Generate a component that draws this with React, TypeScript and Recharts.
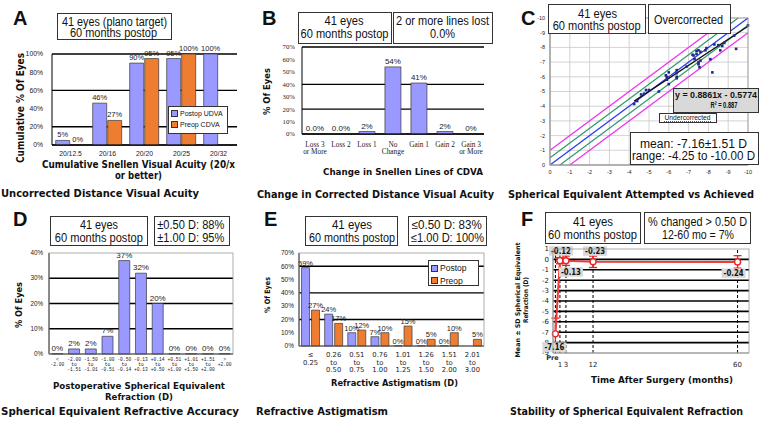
import React from 'react'
import {
  BarChart,
  Bar,
  XAxis,
  YAxis,
  CartesianGrid,
  LabelList,
  Legend,
  ScatterChart,
  Scatter,
  ReferenceLine,
  LineChart,
  Line,
  ErrorBar,
} from 'recharts'

const SANS = '"Liberation Sans", Arial, sans-serif'
const VERDANA = '"DejaVu Sans", Verdana, sans-serif'
const SERIF = '"Liberation Serif", "Times New Roman", serif'
const MONO = '"Liberation Mono", "Courier New", monospace'
const POSTOP = '#9999ff'
const PREOP = '#ee7d31'
const EDGE = '#3a3a3a'

// A - cumulative visual acuity
const snellenCats = ['20/12.5', '20/16', '20/20', '20/25', '20/32']
const postopUdva = [5, 46, 90, 95, 100]
const preopCdva: (number | null)[] = [0, 27, 95, 100, null]

// B - change in lines of CDVA
const lineCats = ['Loss 3\nor More', 'Loss 2', 'Loss 1', 'No\nChange', 'Gain 1', 'Gain 2', 'Gain 3\nor More']
const lineChange = [0, 0, 2, 54, 41, 2, 0]
const lineLabels = ['0.0%', '0.0%', '2%', '54%', '41%', '2%', '0%']

// C - attempted vs achieved SE (D)
const attempted = [
  -4.25, -4.4, -4.6, -4.75, -4.85, -5.0, -5.5, -5.85, -5.9, -5.9, -6.0, -6.0, -6.4, -6.4,
  -6.4, -6.4, -6.9, -7.2, -7.25, -7.3, -7.4, -7.4, -7.5, -7.5, -7.5, -7.55, -7.6, -7.6,
  -7.85, -7.9, -8.1, -8.2, -8.3, -8.5, -8.6, -8.7, -8.8, -9.0, -9.3, -9.4, -10.0,
]
const achieved = [
  -4.15, -4.35, -4.8, -4.85, -5.1, -5.1, -5.0, -6.1, -6.0, -5.8, -6.3, -5.5, -6.45, -6.25,
  -6.0, -5.9, -6.7, -7.5, -7.45, -7.2, -7.55, -7.75, -7.8, -7.0, -6.85, -6.65, -7.7, -7.1,
  -7.8, -7.95, -7.2, -6.3, -8.2, -8.15, -7.8, -8.1, -8.3, -9.05, -8.8, -7.9, -9.5,
]
const seTicks = [-10, -9, -8, -7, -6, -5, -4, -3, -2, -1, 0]
const regSlope = 0.8861
const regIntercept = -0.5774
const regFrom = -4.25
const regTo = -10

// D - postop SE accuracy
const seCats = [
  '<\n-2.00', '-2.00\nto\n-1.51', '-1.50\nto\n-1.01', '-1.00\nto\n-0.51', '-0.50\nto\n-0.14',
  '-0.13\nto\n+0.13', '+0.14\nto\n+0.50', '+0.51\nto\n+1.00', '+1.01\nto\n+1.50',
  '+1.51\nto\n+2.00', '>\n+2.00',
]
const seShare = [0, 2, 2, 7, 37, 32, 20, 0, 0, 0, 0]

// E - refractive astigmatism
const cylCats = [
  '≤\n0.25', '0.26\nto\n0.50', '0.51\nto\n0.75', '0.76\nto\n1.00', '1.01\nto\n1.25',
  '1.26\nto\n1.50', '1.51\nto\n2.00', '2.01\nto\n3.00',
]
const cylPostop: (number | null)[] = [59, 24, 10, 7, 0, 0, 0, null]
const cylPreop = [27, 17, 12, 10, 15, 5, 10, 5]

// F - stability of SE
const visitMonths = [-0.5, 1, 3, 12, 60]
const visitLabels = ['Pre', '1', '3', '12', '60']
const seMean = [-7.16, -0.12, -0.13, -0.23, -0.24]
const seSd = [1.51, 0.3, 0.45, 0.55, 0.6]

const udvaData = snellenCats.map((cat, i) => ({ cat, postop: postopUdva[i], preop: preopCdva[i] }))
const lineData = lineCats.map((cat, i) => ({ cat, v: lineChange[i], lbl: lineLabels[i] }))
const scatterData = attempted.map((x, i) => ({ x, y: achieved[i] }))
const seData = seCats.map((cat, i) => ({ cat, v: seShare[i] }))
const cylData = cylCats.map((cat, i) => ({ cat, postop: cylPostop[i], preop: cylPreop[i] }))
const stabData = visitMonths.map((m, i) => ({ m, mean: seMean[i], sd: seSd[i] }))

const pct = (v: any) => (v == null ? '' : `${v}%`)

function frame(x0: number, y0: number, x1: number, y1: number, yW: number, mt: number, mr: number, xH: number) {
  return {
    style: { position: 'absolute' as const, left: x0 - yW, top: y0 - mt },
    width: x1 - x0 + yW + mr,
    height: y1 - y0 + mt + xH,
    margin: { top: mt, right: mr, left: 0, bottom: 0 },
  }
}

function StackTick(props: any) {
  const { x, y, payload, first, gap, size, family } = props
  const lines = String(payload.value).split('\n')
  return (
    <text textAnchor="middle" fontSize={size} fontFamily={family} fill="#222">
      {lines.map((l, i) => (
        <tspan key={i} x={x} y={y + first + i * gap}>
          {l}
        </tspan>
      ))}
    </text>
  )
}

function VisitTick(props: any) {
  const { x, y, payload } = props
  const i = visitMonths.indexOf(payload.value)
  const pre = i === 0
  return (
    <text x={pre ? x - 3 : x} y={y + (pre ? 7 : 13.5)} textAnchor="middle" fontSize={pre ? 6.5 : 7} fontFamily={VERDANA} fontWeight={pre ? 'bold' : 'normal'} fill="#222">
      {visitLabels[i]}
    </text>
  )
}

function LegendBox({ payload, size }: any) {
  return (
    <div style={{ border: '1px solid #333', background: '#fff', padding: '1px 2px', fontFamily: SANS, fontSize: size, color: '#111', boxSizing: 'border-box', height: '100%', whiteSpace: 'nowrap' }}>
      {(payload || []).map((p: any) => (
        <div key={p.value} style={{ display: 'flex', alignItems: 'center', gap: 2, lineHeight: `${size + 4}px` }}>
          <span style={{ width: 5, height: 5, background: p.color, border: '0.5px solid #333', display: 'inline-block', flex: 'none' }} />
          {p.value}
        </div>
      ))}
    </div>
  )
}

const stabShift = [
  [-1, 16],
  [1, -7],
  [5, 14],
  [2, -8],
  [-4, 14],
]

function StabLabel(props: any) {
  const { x, y, value, index } = props
  const [dx, dy] = stabShift[index] || [0, -8]
  const cx = x + dx
  const by = y + dy
  return (
    <g>
      <rect x={cx - 12} y={by - 7.5} width={24} height={9.5} fill="#d9d9d9" />
      <text x={cx - 10} y={by} fontSize={8.5} fontFamily={VERDANA} fontWeight="bold" fill="#111" textLength={20} lengthAdjust="spacingAndGlyphs">
        {Number(value).toFixed(2)}
      </text>
    </g>
  )
}

function Txt({ x, y, len, size = 12, bold = false, family = SANS, fill = '#111', children }: any) {
  return (
    <text x={x} y={y} fontSize={size} fontFamily={family} fontWeight={bold ? 'bold' : 'normal'} fill={fill} textLength={len} lengthAdjust="spacingAndGlyphs">
      {children}
    </text>
  )
}

// centred text squeezed to a given width
function CTxt({ cx, y, len, ...rest }: any) {
  return <Txt x={cx - len / 2} y={y} len={len} {...rest} />
}

function VTxt({ cx, cy, len, size = 9, family = VERDANA, children }: any) {
  return (
    <text x={cx - len / 2} y={cy + size * 0.35} transform={`rotate(-90 ${cx} ${cy})`} fontSize={size} fontFamily={family} fontWeight="bold" fill="#111" textLength={len} lengthAdjust="spacingAndGlyphs">
      {children}
    </text>
  )
}

function Box({ x0, y0, x1, y1, fill = '#fff' }: any) {
  return <rect x={x0 + 0.5} y={y0 + 0.5} width={x1 - x0} height={y1 - y0} fill={fill} stroke="#333" strokeWidth={1} />
}

export default function App() {
  const a = frame(52, 54, 237, 145, 32, 14, 4, 16)
  const b = frame(302, 47, 484, 134, 30, 6, 4, 24)
  const c = frame(550, 18, 748, 165, 18, 4, 8, 14)
  const d = frame(49, 253, 233, 354, 28, 6, 4, 26)
  const e = frame(299, 253, 484, 346, 30, 8, 4, 30)
  const f = frame(553, 249, 749, 353, 22, 4, 6, 20)

  const yTick = (size: number, family = SANS) => ({ fontSize: size, fontFamily: family, fill: '#222' })
  const barLabel = { fontSize: 7.5, fontFamily: SANS, fill: '#222' }

  return (
    <div style={{ position: 'fixed', left: 0, top: 0, width: 764, height: 421, background: '#fff', fontFamily: SANS, overflow: 'hidden' }}>
      {/* A */}
      <div style={a.style}>
        <BarChart width={a.width} height={a.height} data={udvaData} margin={a.margin} barCategoryGap="10%" barGap={1}>
          <CartesianGrid vertical={false} stroke="#000" strokeWidth={1.4} />
          <XAxis dataKey="cat" interval={0} height={16} tickLine={false} tickSize={4} tickMargin={2} axisLine={{ stroke: '#000' }} tick={{ fontSize: 6.8, fontFamily: SANS, fill: '#222' }} />
          <YAxis width={32} domain={[0, 100]} ticks={[0, 20, 40, 60, 80, 100]} tickFormatter={pct} tickLine={false} tickSize={4} tickMargin={5} axisLine={{ stroke: '#000' }} tick={yTick(6.8)} />
          <Legend layout="vertical" align="center" verticalAlign="middle" wrapperStyle={{ left: 148, top: 66, width: 60, height: 28 }} content={(p: any) => <LegendBox {...p} size={7} />} />
          <Bar dataKey="postop" name="Postop UDVA" fill={POSTOP} stroke={EDGE} strokeWidth={0.7} minPointSize={0.4} isAnimationActive={false}>
            <LabelList dataKey="postop" position="top" offset={3} formatter={pct} {...barLabel} />
          </Bar>
          <Bar dataKey="preop" name="Preop CDVA" fill={PREOP} stroke={EDGE} strokeWidth={0.7} minPointSize={0.4} isAnimationActive={false}>
            <LabelList dataKey="preop" position="top" offset={3} formatter={pct} {...barLabel} />
          </Bar>
        </BarChart>
      </div>

      {/* B */}
      <div style={b.style}>
        <BarChart width={b.width} height={b.height} data={lineData} margin={b.margin} barCategoryGap="19%">
          <CartesianGrid vertical={false} stroke="#000" strokeWidth={1.3} />
          <XAxis dataKey="cat" interval={0} height={24} tickLine={false} tickSize={0} tickMargin={0} axisLine={{ stroke: '#000' }} tick={<StackTick first={13} gap={7} size={7.3} family={SERIF} />} />
          <YAxis width={30} domain={[0, 70]} ticks={[0, 10, 20, 30, 40, 50, 60, 70]} tickFormatter={pct} tickLine={false} tickSize={3} tickMargin={4} axisLine={{ stroke: '#000' }} tick={yTick(6.8, SERIF)} />
          <Bar dataKey="v" fill={POSTOP} stroke={EDGE} strokeWidth={0.7} minPointSize={0.4} isAnimationActive={false}>
            <LabelList dataKey="lbl" position="top" offset={3} fontSize={8} fontFamily={SANS} fill="#222" />
          </Bar>
        </BarChart>
      </div>

      {/* C */}
      <div style={c.style}>
        <ScatterChart width={c.width} height={c.height} margin={c.margin}>
          <CartesianGrid stroke="#c8c8c8" strokeWidth={0.8} />
          <XAxis type="number" dataKey="x" domain={[-10, 0]} ticks={seTicks} reversed interval={0} height={14} tickLine={false} tickSize={3} tickMargin={2} axisLine={{ stroke: '#999' }} tick={yTick(5.5)} />
          <YAxis type="number" dataKey="y" domain={[-10, 0]} ticks={seTicks} reversed interval={0} width={18} tickLine={false} tickSize={3} tickMargin={2} axisLine={{ stroke: '#999' }} tick={yTick(5.5)} />
          <ReferenceLine segment={[{ x: 0, y: -1 }, { x: -9, y: -10 }]} stroke="#ee33ee" strokeWidth={1.3} />
          <ReferenceLine segment={[{ x: -1, y: 0 }, { x: -10, y: -9 }]} stroke="#ee33ee" strokeWidth={1.3} />
          <ReferenceLine segment={[{ x: 0, y: -0.5 }, { x: -9.5, y: -10 }]} stroke="#2f9a6a" strokeWidth={1.2} />
          <ReferenceLine segment={[{ x: -0.5, y: 0 }, { x: -10, y: -9.5 }]} stroke="#2f9a6a" strokeWidth={1.2} />
          <ReferenceLine segment={[{ x: 0, y: 0 }, { x: -10, y: -10 }]} stroke="#2a3cf0" strokeWidth={1.3} />
          <ReferenceLine
            segment={[
              { x: regFrom, y: regSlope * regFrom + regIntercept },
              { x: regTo, y: regSlope * regTo + regIntercept },
            ]}
            stroke="#111"
            strokeWidth={1.3}
          />
          <Scatter
            data={scatterData}
            isAnimationActive={false}
            shape={(p: any) => <rect x={p.cx - 1.3} y={p.cy - 1.3} width={2.6} height={2.6} fill="#1c2a8c" />}
          />
        </ScatterChart>
      </div>

      {/* D */}
      <div style={d.style}>
        <BarChart width={d.width} height={d.height} data={seData} margin={d.margin} barCategoryGap="17%">
          <CartesianGrid vertical={false} horizontalValues={[10, 20, 30]} stroke="#000" strokeWidth={1.4} />
          <XAxis dataKey="cat" interval={0} height={26} tickLine={false} tickSize={0} tickMargin={0} axisLine={{ stroke: '#000' }} tick={<StackTick first={7} gap={5} size={4.6} family={MONO} />} />
          <YAxis width={28} domain={[0, 40]} ticks={[0, 10, 20, 30, 40]} tickFormatter={pct} tickLine={false} tickSize={3} tickMargin={3} axisLine={{ stroke: '#000' }} tick={yTick(6.3)} />
          <Bar dataKey="v" fill={POSTOP} stroke={EDGE} strokeWidth={0.7} minPointSize={0.4} isAnimationActive={false}>
            <LabelList dataKey="v" position="top" offset={3} formatter={pct} fontSize={8} fontFamily={SANS} fill="#222" />
          </Bar>
        </BarChart>
      </div>

      {/* E */}
      <div style={e.style}>
        <BarChart width={e.width} height={e.height} data={cylData} margin={e.margin} barCategoryGap="11%" barGap={2}>
          <CartesianGrid vertical={false} horizontalValues={[10, 20, 30, 40, 50, 60]} stroke="#000" strokeWidth={1.4} />
          <XAxis dataKey="cat" interval={0} height={30} tickLine={false} tickSize={0} tickMargin={0} axisLine={{ stroke: '#000' }} tick={<StackTick first={11} gap={7.5} size={6.8} family={VERDANA} />} />
          <YAxis width={30} domain={[0, 70]} ticks={[0, 10, 20, 30, 40, 50, 60, 70]} tickFormatter={pct} tickLine={false} tickSize={2} tickMargin={3} axisLine={{ stroke: '#000' }} tick={yTick(6.5)} />
          <Legend layout="vertical" align="center" verticalAlign="middle" wrapperStyle={{ left: 159, top: 15, width: 51, height: 26 }} content={(p: any) => <LegendBox {...p} size={8.5} />} />
          <Bar dataKey="postop" name="Postop" fill={POSTOP} stroke={EDGE} strokeWidth={0.7} minPointSize={0.4} isAnimationActive={false}>
            <LabelList dataKey="postop" position="top" offset={2} formatter={pct} {...barLabel} />
          </Bar>
          <Bar dataKey="preop" name="Preop" fill={PREOP} stroke={EDGE} strokeWidth={0.7} minPointSize={0.4} isAnimationActive={false}>
            <LabelList dataKey="preop" position="top" offset={2} formatter={pct} {...barLabel} />
          </Bar>
        </BarChart>
      </div>

      {/* F */}
      <div style={f.style}>
        <LineChart width={f.width} height={f.height} data={stabData} margin={f.margin}>
          <CartesianGrid vertical={false} horizontalValues={[-8, -7, -6, -5, -4, -3, -2, -1, 0]} stroke="#000" strokeWidth={1.6} />
          {visitMonths.map((m) => (
            <ReferenceLine key={m} x={m} stroke="#000" strokeDasharray="3 2" />
          ))}
          <XAxis type="number" dataKey="m" domain={[-1.3, 63.8]} ticks={visitMonths} interval={0} height={20} tickLine={false} tickSize={0} tickMargin={0} axisLine={{ stroke: '#999' }} tick={<VisitTick />} />
          <YAxis width={22} domain={[-9, 1]} ticks={[-9, -8, -7, -6, -5, -4, -3, -2, -1, 0, 1]} interval={0} tickLine={false} tickSize={2} tickMargin={2} axisLine={{ stroke: '#999' }} tick={{ fontSize: 7, fontFamily: VERDANA, fill: '#222' }} />
          <Line dataKey="mean" stroke="#ee3b3b" strokeWidth={2} isAnimationActive={false} dot={{ r: 3, fill: '#fff', stroke: '#e22', strokeWidth: 1.4 }}>
            <ErrorBar dataKey="sd" width={4} stroke="#e22" strokeWidth={1.3} direction="y" />
            <LabelList dataKey="mean" content={<StabLabel />} />
          </Line>
        </LineChart>
      </div>

      <svg width={764} height={421} style={{ position: 'absolute', left: 0, top: 0, pointerEvents: 'none' }}>
        {/* panel letters */}
        <Txt x={13} y={24.5} size={20} bold>A</Txt>
        <Txt x={262} y={24.5} size={20} bold>B</Txt>
        <Txt x={521} y={25} size={20} bold>C</Txt>
        <Txt x={13} y={226} size={20} bold>D</Txt>
        <Txt x={264} y={226} size={20} bold>E</Txt>
        <Txt x={521} y={226} size={20} bold>F</Txt>

        {/* plot frames */}
        <rect x={550} y={18} width={198} height={147} fill="none" stroke="#999" strokeWidth={0.8} />
        <rect x={49} y={253} width={184} height={101} fill="none" stroke="#999" strokeWidth={0.8} />
        <rect x={299} y={253} width={185} height={93} fill="none" stroke="#999" strokeWidth={0.8} />
        <rect x={553} y={249} width={196} height={104} fill="none" stroke="#999" strokeWidth={0.8} />

        {/* A */}
        <Box x0={57} y0={13} x1={171} y1={39} />
        <CTxt cx={114.5} y={26} len={105}>41 eyes (plano target)</CTxt>
        <CTxt cx={113.5} y={36.7} len={87}>60 months postop</CTxt>
        <CTxt cx={138.5} y={168} len={193} size={10} bold family={VERDANA}>Cumulative Snellen Visual Acuity (20/x</CTxt>
        <CTxt cx={138.5} y={179} len={47} size={10} bold family={VERDANA}>or better)</CTxt>
        <VTxt cx={20} cy={108} len={110} size={10}>Cumulative % Of Eyes</VTxt>
        <Txt x={1} y={197} len={198} size={11} bold family={VERDANA}>Uncorrected Distance Visual Acuity</Txt>

        {/* B */}
        <Box x0={298} y0={12} x1={391} y1={43} />
        <CTxt cx={344} y={25} len={39}>41 eyes</CTxt>
        <CTxt cx={344.5} y={38} len={88}>60 months postop</CTxt>
        <Box x0={393} y0={12} x1={492} y1={43} />
        <CTxt cx={442.5} y={25} len={93}>2 or more lines lost</CTxt>
        <CTxt cx={442.5} y={38} len={25}>0.0%</CTxt>
        <CTxt cx={403} y={175} len={160} size={8.5} bold family={VERDANA}>Change in Snellen Lines of CDVA</CTxt>
        <VTxt cx={267} cy={91.5} len={47} size={8.5}>% Of Eyes</VTxt>
        <Txt x={257} y={198} len={237} size={11} bold family={VERDANA}>Change in Corrected Distance Visual Acuity</Txt>

        {/* C */}
        <Box x0={548} y0={4} x1={645} y1={33} />
        <CTxt cx={597.5} y={18} len={39}>41 eyes</CTxt>
        <CTxt cx={596.7} y={29.5} len={88}>60 months postop</CTxt>
        <Box x0={648} y0={4} x1={730} y1={33} />
        <CTxt cx={688.5} y={23.5} len={69}>Overcorrected</CTxt>
        <Box x0={673} y0={88} x1={758} y1={112} fill="#d9d9d9" />
        <CTxt cx={716} y={97.5} len={82} size={9} bold>y = 0.8861x - 0.5774</CTxt>
        <CTxt cx={724} y={108} len={27} size={9} bold>R² = 0.887</CTxt>
        <Box x0={659} y0={113} x1={716} y1={122} />
        <CTxt cx={687.5} y={120} len={46} size={6.5}>Undercorrected</CTxt>
        <line x1={664} y1={121.5} x2={711} y2={121.5} stroke="#e02020" strokeWidth={1} strokeDasharray="1 1" />
        <Box x0={630} y0={132} x1={758} y1={164} />
        <CTxt cx={693.5} y={148} len={107}>mean: -7.16±1.51 D</CTxt>
        <CTxt cx={693.5} y={159.5} len={123}>range: -4.25 to -10.00 D</CTxt>
        <Txt x={508} y={198} len={246} size={11} bold family={VERDANA}>Spherical Equivalent Attempted vs Achieved</Txt>

        {/* D */}
        <Box x0={50} y0={216} x1={147} y1={245} />
        <CTxt cx={99} y={228.5} len={38}>41 eyes</CTxt>
        <CTxt cx={98.8} y={241.7} len={88}>60 months postop</CTxt>
        <Box x0={154} y0={216} x1={229} y1={245} />
        <Txt x={157.3} y={228.5} len={67}>±0.50 D: 88%</Txt>
        <Txt x={157.3} y={241.7} len={67}>±1.00 D: 95%</Txt>
        <CTxt cx={139} y={389} len={172} size={9.5} bold family={VERDANA}>Postoperative Spherical Equivalent</CTxt>
        <CTxt cx={139} y={399.5} len={68} size={9.5} bold family={VERDANA}>Refraction (D)</CTxt>
        <VTxt cx={19} cy={305} len={46} size={9}>% Of Eyes</VTxt>
        <Txt x={1} y={415} len={238} size={11} bold family={VERDANA}>Spherical Equivalent Refractive Accuracy</Txt>

        {/* E */}
        <Box x0={305} y0={216} x1={397} y1={245} />
        <CTxt cx={352} y={228.5} len={40}>41 eyes</CTxt>
        <CTxt cx={352} y={241.7} len={86}>60 months postop</CTxt>
        <Box x0={408} y0={216} x1={486} y1={245} />
        <Txt x={411.7} y={228.5} len={70}>≤0.50 D: 83%</Txt>
        <Txt x={411} y={241.7} len={73}>≤1.00 D: 100%</Txt>
        <CTxt cx={394.5} y={386} len={127} size={9} bold family={VERDANA}>Refractive Astigmatism (D)</CTxt>
        <VTxt cx={267} cy={295} len={36} size={7.5}>% Of Eyes</VTxt>
        <Txt x={256} y={415} len={132} size={11} bold family={VERDANA}>Refractive Astigmatism</Txt>

        {/* F */}
        <Box x0={545} y0={212} x1={640} y1={243} />
        <CTxt cx={593} y={225.5} len={40}>41 eyes</CTxt>
        <CTxt cx={592.5} y={238.5} len={89}>60 months postop</CTxt>
        <Box x0={644} y0={212} x1={750} y1={243} />
        <CTxt cx={697.5} y={225.5} len={99}>% changed &gt; 0.50 D</CTxt>
        <CTxt cx={698} y={238.5} len={72}>12-60 mo = 7%</CTxt>
        <CTxt cx={662} y={383} len={142} size={9} bold family={VERDANA}>Time After Surgery (months)</CTxt>
        <VTxt cx={518} cy={300} len={115} size={6.5}>Mean ± SD Spherical Equivalent</VTxt>
        <VTxt cx={526} cy={300} len={46} size={6.5}>Refraction (D)</VTxt>
        <Txt x={510} y={415} len={233} size={11} bold family={VERDANA}>Stability of Spherical Equivalent Refraction</Txt>
      </svg>
    </div>
  )
}
